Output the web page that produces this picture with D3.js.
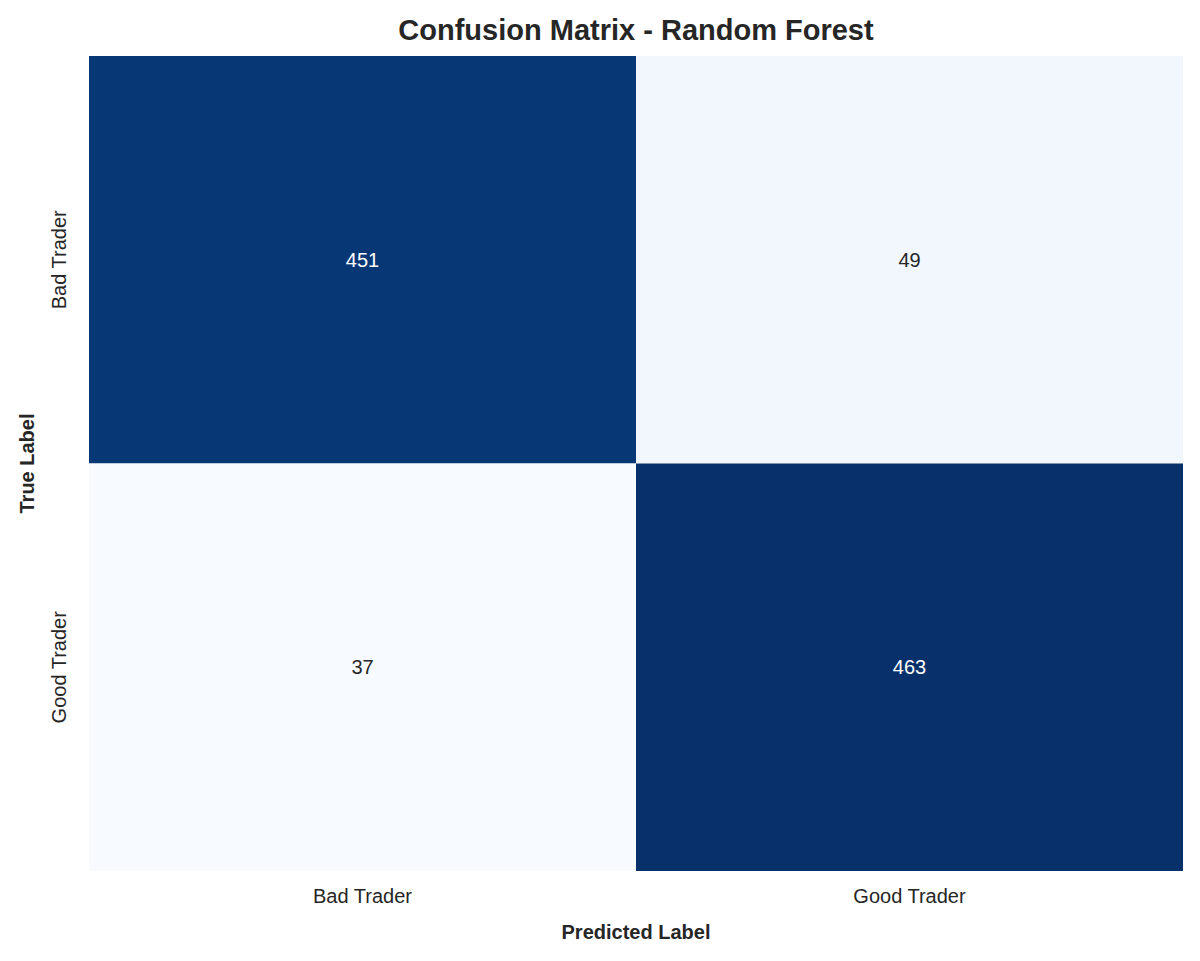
<!DOCTYPE html>
<html><head><meta charset="utf-8">
<script src="https://cdn.jsdelivr.net/npm/d3@7"></script>
<style>body{margin:0;background:#fff}svg{font-family:"Liberation Sans",Arial,sans-serif}</style>
</head><body><svg id="c" width="1200" height="961"></svg>
<script>
const trueLabels = ["Bad Trader", "Good Trader"];
const predLabels = ["Bad Trader", "Good Trader"];
const counts = [[451, 49], [37, 463]];

const svg = d3.select("#c");
const m = {left: 89, right: 1183, top: 56, bottom: 871};
const x = d3.scaleBand().domain(predLabels).range([m.left, m.right]);
const y = d3.scaleBand().domain(trueLabels).range([m.top, m.bottom]);
const flat = counts.flat();
const color = d3.scaleSequential(d3.interpolateBlues).domain([d3.min(flat), d3.max(flat)]);

const cells = [];
counts.forEach((row, i) => row.forEach((v, j) => cells.push({t: trueLabels[i], p: predLabels[j], v})));

svg.selectAll("rect").data(cells).join("rect")
  .attr("x", d => x(d.p)).attr("y", d => y(d.t))
  .attr("width", x.bandwidth()).attr("height", y.bandwidth())
  .attr("fill", d => color(d.v));

svg.selectAll("text.val").data(cells).join("text").attr("class", "val")
  .attr("x", d => x(d.p) + x.bandwidth() / 2).attr("y", d => y(d.t) + y.bandwidth() / 2)
  .attr("text-anchor", "middle").attr("dy", "0.35em").attr("font-size", 20)
  .attr("fill", d => (d.v - color.domain()[0]) / (color.domain()[1] - color.domain()[0]) > 0.5 ? "#fff" : "#262626")
  .text(d => d.v);

const xa = svg.append("g").attr("transform", `translate(0,${m.bottom})`)
  .call(d3.axisBottom(x).tickSize(0).tickPadding(18));
const ya = svg.append("g").attr("transform", `translate(${m.left},0)`)
  .call(d3.axisLeft(y).tickSize(0).tickPadding(0));
[xa, ya].forEach(a => { a.select(".domain").remove(); a.selectAll("text").attr("font-size", 20).attr("fill", "#262626").style("font-family", "Liberation Sans, Arial, sans-serif"); });
ya.selectAll(".tick text").attr("text-anchor", "middle").attr("transform", "translate(-30,0) rotate(-90)").attr("x", 0).attr("dy", "0.35em");

svg.append("text").attr("x", (m.left + m.right) / 2).attr("y", 40).attr("text-anchor", "middle")
  .attr("font-size", 29).attr("font-weight", "bold").attr("fill", "#262626").text("Confusion Matrix - Random Forest");
svg.append("text").attr("x", (m.left + m.right) / 2).attr("y", 939).attr("text-anchor", "middle")
  .attr("font-size", 20).attr("font-weight", "bold").attr("fill", "#262626").text("Predicted Label");
svg.append("text").attr("transform", `translate(34,${(m.top + m.bottom) / 2}) rotate(-90)`).attr("text-anchor", "middle")
  .attr("font-size", 20).attr("font-weight", "bold").attr("fill", "#262626").text("True Label");
</script></body></html>
